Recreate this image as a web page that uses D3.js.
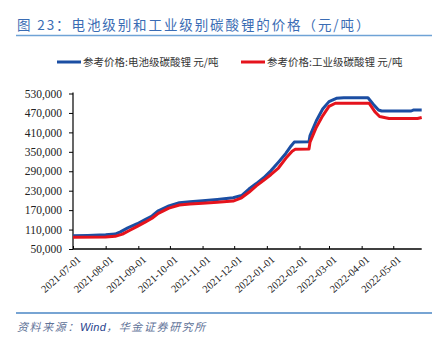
<!DOCTYPE html>
<html>
<head>
<meta charset="utf-8">
<script src="https://cdn.jsdelivr.net/npm/d3@7"></script>
<style>
  html, body { margin: 0; padding: 0; background: #fff; }
  svg { display: block; }
</style>
</head>
<body>
<svg id="chart" width="448" height="337"></svg>
<script>
// Lithium carbonate reference prices (yuan / tonne)
const batteryDates = ["2021-07-01","2021-07-15","2021-08-01","2021-08-10","2021-08-15","2021-08-22","2021-08-31","2021-09-07","2021-09-14","2021-09-20","2021-09-30","2021-10-10","2021-10-20","2021-11-01","2021-11-15","2021-11-30","2021-12-08","2021-12-15","2021-12-22","2021-12-29","2022-01-05","2022-01-12","2022-01-19","2022-01-24","2022-01-27","2022-02-10","2022-02-11","2022-02-17","2022-02-23","2022-03-01","2022-03-08","2022-03-15","2022-04-07","2022-04-12","2022-04-17","2022-04-20","2022-05-18","2022-05-20","2022-05-28"];
const batteryPrices = [91000,92000,94000,96000,103000,115000,128000,140000,152000,168000,183000,193000,196000,199000,203000,208000,215000,235000,252000,270000,292000,318000,345000,368000,380000,381000,400000,446000,482000,505000,515000,517000,517000,497000,479000,476000,476000,479000,479000];

const industrialDates = ["2021-07-01","2021-08-01","2021-08-10","2021-08-17","2021-08-24","2021-08-31","2021-09-07","2021-09-14","2021-09-20","2021-09-30","2021-10-10","2021-10-20","2021-11-01","2021-11-15","2021-11-30","2021-12-08","2021-12-15","2021-12-22","2021-12-29","2022-01-05","2022-01-12","2022-01-19","2022-01-25","2022-01-28","2022-02-10","2022-02-11","2022-02-17","2022-02-23","2022-03-01","2022-03-07","2022-04-08","2022-04-14","2022-04-18","2022-04-27","2022-05-24","2022-05-28"];
const industrialPrices = [86000,87000,89000,96000,108000,120000,132000,145000,160000,176000,186000,189000,191000,194000,198000,208000,225000,245000,262000,280000,300000,330000,352000,358000,359000,380000,426000,461000,490000,500000,500000,472000,459000,453000,453000,456000];

const monthTicks = ["2021-07-01","2021-08-01","2021-09-01","2021-10-01","2021-11-01","2021-12-01","2022-01-01","2022-02-01","2022-03-01","2022-04-01","2022-05-01"];
const priceTicks = [50000,110000,170000,230000,290000,350000,410000,470000,530000];

const seriesNames = ["参考价格:电池级碳酸锂 元/吨", "参考价格:工业级碳酸锂 元/吨"];
const seriesColors = ["#1b4ea3", "#e5131c"];

const parse = d3.timeParse("%Y-%m-%d");
const svg = d3.select("#chart");
const cjk = "'Noto Sans CJK SC', 'Noto Sans', sans-serif";
const serif = "'Liberation Serif', 'DejaVu Serif', serif";

// Title and rules
svg.append("text")
  .attr("x", 17).attr("y", 30)
  .attr("font-family", cjk).attr("font-size", 13.5)
  .attr("letter-spacing", 1.9)
  .attr("fill", "#3a6cb4")
  .text("图 23：电池级别和工业级别碳酸锂的价格（元/吨）");
svg.append("line").attr("x1", 16).attr("x2", 432).attr("y1", 35.5).attr("y2", 35.5)
  .attr("stroke", "#6fa3d6").attr("stroke-width", 1.6);
svg.append("line").attr("x1", 16).attr("x2", 432).attr("y1", 313).attr("y2", 313)
  .attr("stroke", "#4a86c5").attr("stroke-width", 1.3);

// Source note
const src = svg.append("text")
  .attr("x", 17).attr("y", 331)
  .attr("font-family", cjk).attr("font-size", 11)
  .attr("letter-spacing", 1.6)
  .attr("font-style", "italic");
src.append("tspan").attr("fill", "#5f7398").text("资料来源：");
src.append("tspan").attr("fill", "#1f3f8c").attr("letter-spacing", 0.3).attr("font-family", "'Liberation Sans', Arial, sans-serif").text("Wind");
src.append("tspan").attr("fill", "#5f7398").text("，华金证券研究所");

// Legend
const legendX = [57, 241];
seriesNames.forEach((name, i) => {
  const g = svg.append("g").attr("transform", `translate(${legendX[i]},62)`);
  g.append("line").attr("x1", 0).attr("x2", 24).attr("y1", 0).attr("y2", 0)
    .attr("stroke", seriesColors[i]).attr("stroke-width", 3);
  g.append("text").attr("x", 26).attr("y", 3.8)
    .attr("font-family", cjk).attr("font-size", 10.5).attr("fill", "#333")
    .text(name);
});

// Scales
const x = d3.scaleTime()
  .domain([parse("2021-07-01"), parse("2022-05-28")])
  .range([73, 421.7]);
const y = d3.scaleLinear().domain([50000, 530000]).range([249, 93.5]);

// Y axis
const yAxis = svg.append("g").attr("transform", "translate(73,0)")
  .call(d3.axisLeft(y).tickValues(priceTicks).tickFormat(d3.format(",")).tickSize(4).tickPadding(7));
yAxis.select(".domain").attr("stroke", "#000").attr("stroke-width", 1.2).attr("d", `M0,${y(530000) - 1}V249`);
yAxis.selectAll(".tick line").attr("stroke", "#000");
yAxis.selectAll("text").attr("font-family", serif).attr("font-size", 11.5).attr("fill", "#222");

// X axis
const xAxis = svg.append("g").attr("transform", "translate(0,249)")
  .call(d3.axisBottom(x).tickValues(monthTicks.map(parse)).tickFormat(d3.timeFormat("%Y-%m-%d")).tickSize(0));
xAxis.select(".domain").attr("stroke", "#000").attr("stroke-width", 1.4).attr("d", "M73,0H421.7");
xAxis.selectAll(".tick").append("line").attr("y1", 0).attr("y2", -3).attr("stroke", "#000");
xAxis.selectAll(".tick text")
  .attr("font-family", serif).attr("font-size", 10.5).attr("fill", "#222")
  .attr("text-anchor", "end")
  .attr("transform", "translate(3,6) rotate(-42)")
  .attr("dx", 0).attr("dy", "0.71em").attr("y", 0);

// Lines
const line = d3.line().x(d => x(d[0])).y(d => y(d[1]));
const battery = batteryDates.map((d, i) => [parse(d), batteryPrices[i]]);
const industrial = industrialDates.map((d, i) => [parse(d), industrialPrices[i]]);
[battery, industrial].forEach((data, i) => {
  svg.append("path").datum(data)
    .attr("fill", "none")
    .attr("stroke", seriesColors[i])
    .attr("stroke-width", 3)
    .attr("stroke-linejoin", "round")
    .attr("d", line);
});
</script>
</body>
</html>
